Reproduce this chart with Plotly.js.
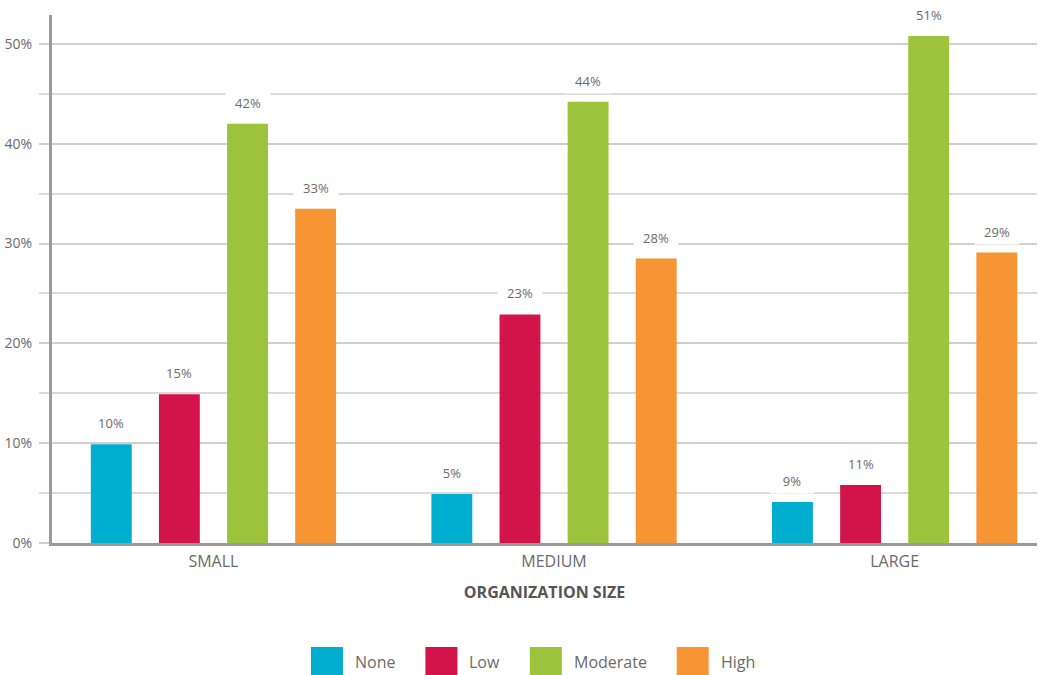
<!DOCTYPE html>
<html>
<head>
<meta charset="utf-8">
<script src="https://cdn.plot.ly/plotly-3.0.1.min.js"></script>
<style>html,body{margin:0;padding:0;background:#fff;}#chart{width:1039px;height:675px;}</style>
</head>
<body>
<div id="chart"></div>
<script>
// ---- data ----
const categories = ['SMALL', 'MEDIUM', 'LARGE'];
const seriesNames = ['None', 'Low', 'Moderate', 'High'];
const noneValues = [9.9, 4.9, 4.1];
const lowValues = [14.9, 22.9, 5.8];
const moderateValues = [42.0, 44.2, 50.8];
const highValues = [33.5, 28.5, 29.1];
const noneLabels = ['10%', '5%', '9%'];
const lowLabels = ['15%', '23%', '11%'];
const moderateLabels = ['42%', '44%', '51%'];
const highLabels = ['33%', '28%', '29%'];
const seriesColors = ['#00AECF', '#D2144A', '#9DC33C', '#F79433'];
const xTitle = 'ORGANIZATION SIZE';

const allValues = [noneValues, lowValues, moderateValues, highValues];
const allLabels = [noneLabels, lowLabels, moderateLabels, highLabels];

const FONT = '"Open Sans", "Noto Sans", sans-serif';
const TXT = '#6a6a6a';
const GRID = '#cfcfcf';
const AXIS = '#9a9a9a';

const traces = seriesNames.map((name, i) => ({
  type: 'bar',
  name: name,
  x: categories,
  y: allValues[i],
  marker: {color: seriesColors[i]},
  hoverinfo: 'x+y+name',
  showlegend: false
}));

// bar value labels (white boxes covering gridlines)
const annotations = [];
const nS = seriesNames.length;
const slot = 0.2;
allValues.forEach((vals, i) => {
  vals.forEach((v, j) => {
    annotations.push({
      xref: 'x', yref: 'y',
      x: j + (i - (nS - 1) / 2) * slot,
      y: v,
      yanchor: 'middle', xanchor: 'center',
      yshift: 21,
      text: allLabels[i][j],
      showarrow: false,
      bgcolor: '#ffffff',
      width: 38,
      borderpad: 3,
      font: {family: FONT, size: 13, color: TXT}
    });
  });
});

// custom legend (large swatches) built from series arrays
const plotL = 52, plotR = 1037, plotT = 15, plotB = 543;
const pw = plotR - plotL, ph = plotB - plotT;
const toPx = px => (px - plotL) / pw;
const toPy = py => (plotB - py) / ph;

const legFont = 16;
const canvas = document.createElement('canvas');
const ctx = canvas.getContext('2d');
ctx.font = legFont + 'px "Open Sans"';
const swW = 32, swH = 28, swGap = 10, itemGap = 32;
const widths = seriesNames.map(n => ctx.measureText(n).width);
const total = widths.reduce((a, w) => a + swW + swGap + w, 0) + itemGap * (nS - 1);
let cur = 532 - total / 2;
const legY = 661;
const shapes = [];
seriesNames.forEach((n, i) => {
  shapes.push({
    type: 'rect', xref: 'paper', yref: 'paper',
    x0: toPx(cur), x1: toPx(cur + swW),
    y0: toPy(legY + swH / 2), y1: toPy(legY - swH / 2),
    fillcolor: seriesColors[i], line: {width: 0}
  });
  annotations.push({
    xref: 'paper', yref: 'paper',
    x: toPx(cur + swW + swGap), y: toPy(legY + 1),
    xanchor: 'left', yanchor: 'middle',
    text: n, showarrow: false,
    font: {family: FONT, size: legFont, color: TXT}
  });
  cur += swW + swGap + widths[i] + itemGap;
});

const layout = {
  width: 1039, height: 675,
  margin: {l: plotL, r: 1039 - plotR, t: plotT, b: 675 - plotB},
  paper_bgcolor: '#ffffff', plot_bgcolor: '#ffffff',
  font: {family: FONT, color: TXT},
  barmode: 'group',
  bargap: 0.2,
  bargroupgap: 0.4,
  showlegend: false,
  xaxis: {
    type: 'category',
    range: [-0.474, 2.418],
    showline: true, linecolor: AXIS, linewidth: 3,
    showgrid: false, ticks: '',
    tickfont: {family: FONT, size: 16, color: TXT},
    ticklabelstandoff: 2,
    title: {text: xTitle, standoff: 16, font: {family: FONT, size: 16, color: '#555555', weight: 'bold'}}
  },
  yaxis: {
    range: [0, 52.9],
    dtick: 10, tick0: 0,
    ticksuffix: '%',
    showline: true, linecolor: AXIS, linewidth: 3,
    showgrid: true, gridcolor: GRID, gridwidth: 2,
    zeroline: false,
    ticks: 'outside', ticklen: 10, tickcolor: GRID, tickwidth: 2,
    ticklabelstandoff: 4,
    tickfont: {family: FONT, size: 14, color: TXT},
    minor: {dtick: 5, showgrid: true, gridcolor: '#dadada', gridwidth: 1.5,
            ticks: 'outside', ticklen: 10, tickcolor: '#dadada', tickwidth: 1.5}
  },
  annotations: annotations,
  shapes: shapes
};

Plotly.newPlot('chart', traces, layout, {displayModeBar: false, responsive: false});
</script>
</body>
</html>
